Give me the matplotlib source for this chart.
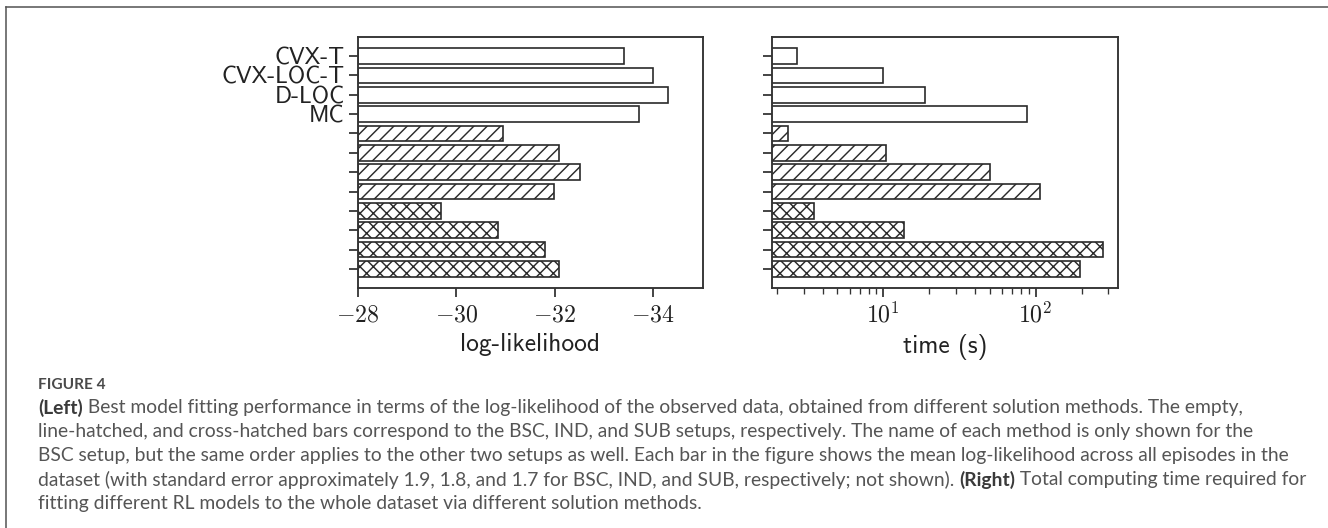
import math
import matplotlib
matplotlib.use("Agg")
import matplotlib.pyplot as plt
from matplotlib.ticker import FixedLocator, FuncFormatter, LogLocator, NullFormatter
from matplotlib.lines import Line2D

# ---------------- data ----------------
methods = ["CVX-T", "CVX-LOC-T", "D-LOC", "MC"]
setups = ["BSC", "IND", "SUB"]
loglik_bsc = [-33.41, -34.00, -34.30, -33.72]
loglik_ind = [-30.96, -32.10, -32.52, -31.98]
loglik_sub = [-29.68, -30.84, -31.80, -32.09]
time_bsc = [2.70, 9.9, 18.9, 88.0]
time_ind = [2.38, 10.4, 50.1, 107.0]
time_sub = [3.53, 13.6, 276.0, 196.0]
left_xticks = [-28, -30, -32, -34]
right_major_ticks = [10, 100]
xlabel_left = "log-likelihood"
xlabel_right = "time (s)"
caption_head = "FIGURE 4"
caption_lines = [
    [("(Left)", "bold"), (" Best model fitting performance in terms of the log-likelihood of the observed data, obtained from different solution methods. The empty,", "normal")],
    [("line-hatched, and cross-hatched bars correspond to the BSC, IND, and SUB setups, respectively. The name of each method is only shown for the", "normal")],
    [("BSC setup, but the same order applies to the other two setups as well. Each bar in the figure shows the mean log-likelihood across all episodes in the", "normal")],
    [("dataset (with standard error approximately 1.9, 1.8, and 1.7 for BSC, IND, and SUB, respectively; not shown). ", "normal"), ("(Right)", "bold"), (" Total computing time required for", "normal")],
    [("fitting different RL models to the whole dataset via different solution methods.", "normal")],
]

# ---------------- style ----------------
W, H, DPI = 1328, 528, 80
plt.rcParams["mathtext.fontset"] = "cm"
plt.rcParams["hatch.linewidth"] = 1.3
EDGE = "#2a2a2a"
plt.rcParams["hatch.color"] = EDGE

fig = plt.figure(figsize=(W / DPI, H / DPI), dpi=DPI)
fig.patch.set_facecolor("white")

def px_box(x0, x1, ytop, ybot):
    return [x0 / W, 1 - ybot / H, (x1 - x0) / W, (ybot - ytop) / H]

axL = fig.add_axes(px_box(358, 703, 37, 288))
axR = fig.add_axes(px_box(772.3, 1117.5, 37, 288))

loglik = loglik_bsc + loglik_ind + loglik_sub
times = time_bsc + time_ind + time_sub
hatches = [""] * len(time_bsc) + ["//"] * len(time_ind) + ["xx"] * len(time_sub)
ypos = list(range(len(loglik)))
base_ll = left_xticks[0]

for ax in (axL, axR):
    for s in ax.spines.values():
        s.set_linewidth(1.7)
        s.set_color("#333333")
    ax.tick_params(axis="both", which="major", length=8, width=1.6, color="#333333")
    ax.tick_params(axis="both", which="minor", length=5, width=1.2, color="#333333")

# Left panel
bars = axL.barh(ypos, [v - base_ll for v in loglik], left=base_ll, height=0.8,
                color="white", edgecolor=EDGE, linewidth=1.5)
for b, h in zip(bars, hatches):
    b.set_hatch(h)
axL.set_xlim(-28, -35.02)
axL.set_ylim(len(ypos) - 1 + 0.99, -0.99)
axL.xaxis.set_major_locator(FixedLocator(left_xticks))
axL.xaxis.set_major_formatter(FuncFormatter(lambda v, p: r"$%d$" % round(v)))
axL.set_yticks(ypos)
axL.set_yticklabels(methods + [""] * (len(ypos) - len(methods)),
                    fontfamily="cmss10", fontsize=21.2, color="#222222")
axL.tick_params(axis="y", pad=4)
axL.tick_params(axis="x", labelsize=21.5, pad=5, labelcolor="#222222")
axL.set_xlabel(xlabel_left, fontfamily="cmss10", fontsize=22.8, color="#222222", labelpad=6)

# Right panel
bars = axR.barh(ypos, [t - 1 for t in times], left=1, height=0.8,
                color="white", edgecolor=EDGE, linewidth=1.5)
for b, h in zip(bars, hatches):
    b.set_hatch(h)
axR.set_xscale("log")
axR.set_xlim(1.869, 344)
axR.set_ylim(len(ypos) - 1 + 0.99, -0.99)
axR.xaxis.set_major_locator(FixedLocator(right_major_ticks))
axR.xaxis.set_major_formatter(FuncFormatter(lambda v, p: r"$10^{%d}$" % round(math.log10(v))))
axR.xaxis.set_minor_locator(LogLocator(base=10, subs=range(2, 10), numticks=20))
axR.xaxis.set_minor_formatter(NullFormatter())
axR.set_yticks(ypos)
axR.set_yticklabels([""] * len(ypos))
axR.tick_params(axis="x", labelsize=21.5, pad=5, labelcolor="#222222")
axR.set_xlabel(xlabel_right, fontfamily="cmss10", fontsize=22.8, color="#222222", labelpad=6)

# Frame lines of the screenshot
fig.add_artist(Line2D([6 / W, 1.0], [1 - 7 / H, 1 - 7 / H], transform=fig.transFigure,
                      color="#555555", linewidth=1.4))
fig.add_artist(Line2D([6 / W, 6 / W], [1 - 7 / H, 0.0], transform=fig.transFigure,
                      color="#555555", linewidth=1.4))

# Caption
renderer = fig.canvas.get_renderer()
CAP_COLOR = "#555555"
x0 = 38
probe = "".join(t for t, _ in caption_lines[0])
tp = fig.text(0, 0, probe, fontsize=10, family="Lato")
w10 = tp.get_window_extent(renderer).width
tp.remove()
cap_fs = 10 * (1249 - x0) / w10

fig.text(x0 / W, 1 - 385 / H, caption_head, fontsize=cap_fs * 0.8, family="Lato",
         fontweight="bold", color="#4a4a4a", va="center", ha="left")
line_y = [408, 432, 456, 480, 504]
for yy, segs in zip(line_y, caption_lines):
    x = x0
    for txt, wt in segs:
        t = fig.text(x / W, 1 - yy / H, txt, fontsize=cap_fs, family="Lato",
                     fontweight=wt, color="#3a3a3a" if wt == "bold" else CAP_COLOR,
                     va="center", ha="left")
        x += t.get_window_extent(renderer).width

fig.savefig("out.png", dpi=DPI, facecolor="white")
